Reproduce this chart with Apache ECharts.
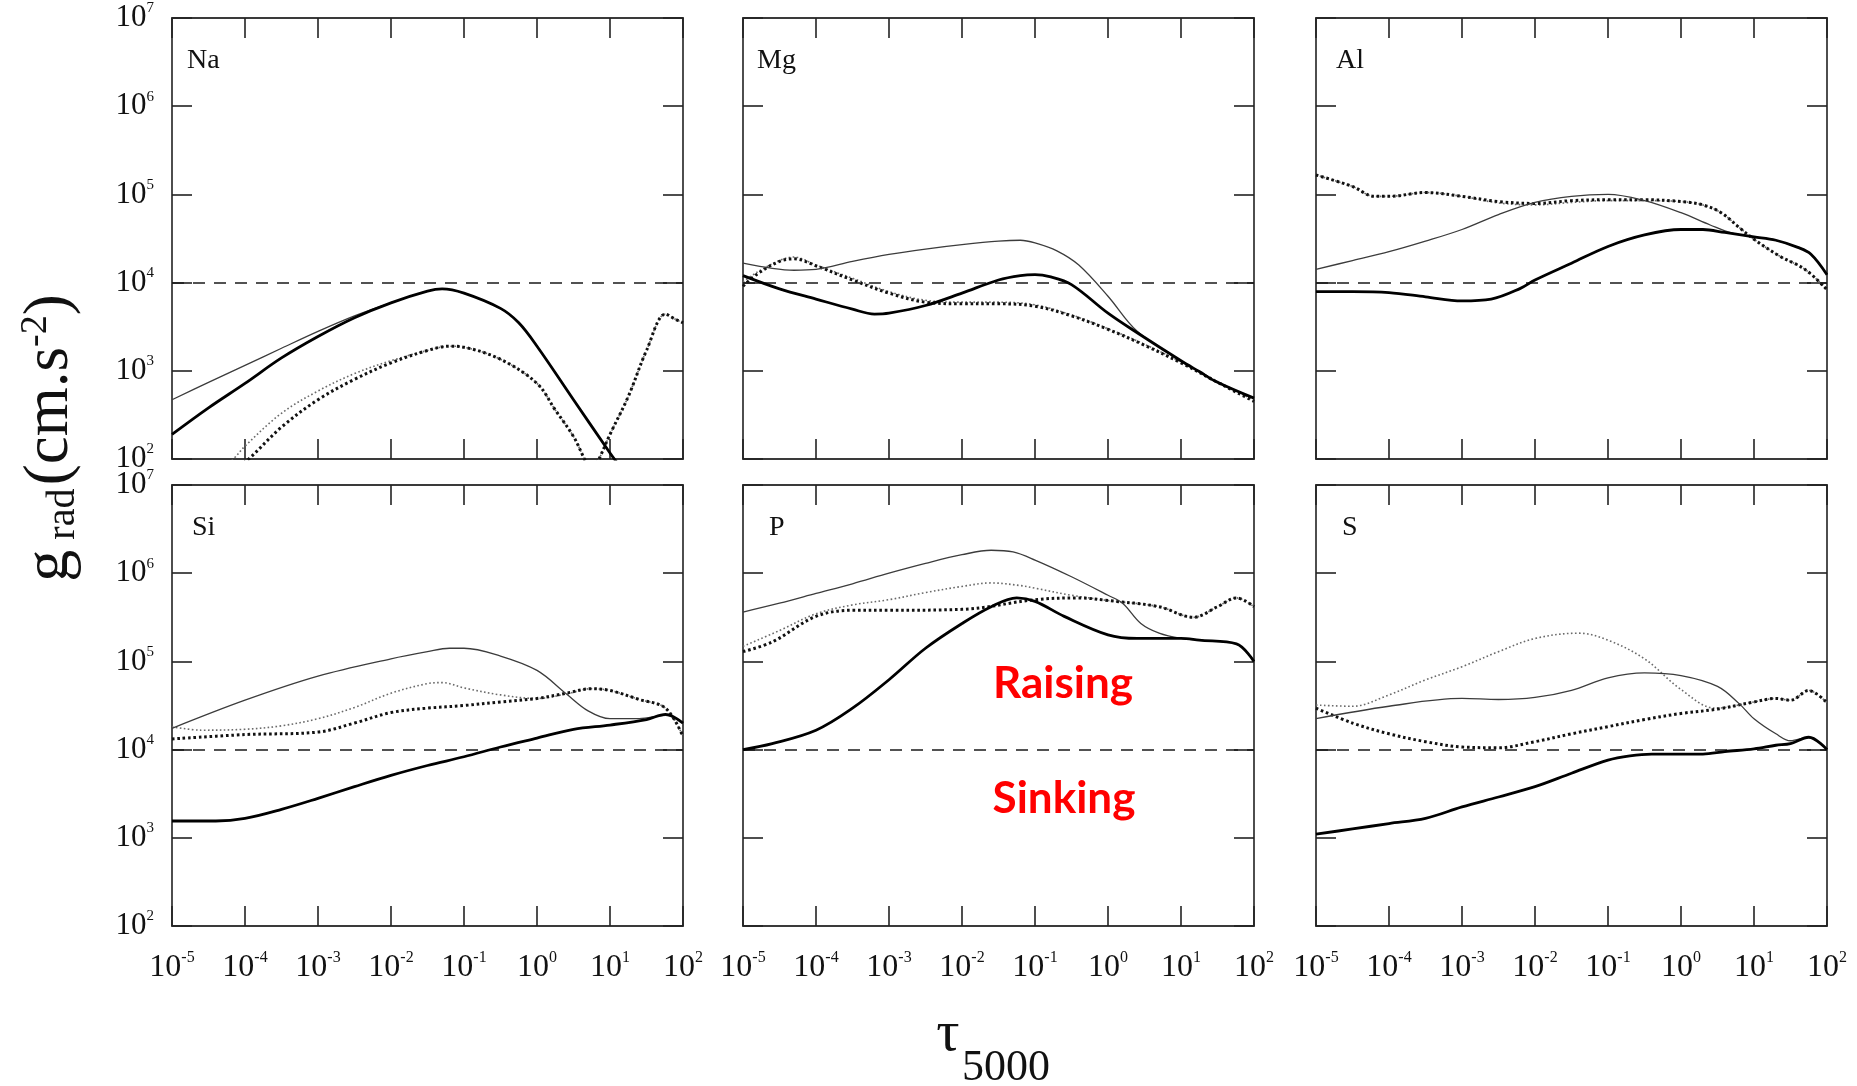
<!DOCTYPE html>
<html>
<head>
<meta charset="utf-8">
<script src="https://cdn.jsdelivr.net/npm/echarts@6/dist/echarts.min.js"></script>
<style>html,body{margin:0;padding:0;background:#fff}#c{width:1857px;height:1086px}</style>
</head>
<body>
<div id="c"></div>
<script>
// ---- data: [log10(tau_5000), g_rad in cm s^-2] ----
const NA_THIN_SOLID   = [[-5,470],[-4.5,740],[-4,1150],[-3.5,1800],[-3,2800],[-2.5,4200],[-2,5900],[-1.5,8000],[-1.3,8500],[-1,7600],[-0.5,5100],[-0.25,3500],[0,1900],[0.5,470],[1,117],[1.1,90]];
const NA_THICK_SOLID  = [[-5,190],[-4.5,380],[-4,720],[-3.5,1400],[-3,2450],[-2.5,4000],[-2,5900],[-1.5,8000],[-1.3,8500],[-1,7600],[-0.5,5100],[-0.25,3500],[0,1900],[0.5,470],[1,117],[1.1,90]];
const NA_THIN_DOTTED  = [[-4.4,70],[-4.16,100],[-4,140],[-3.5,330],[-3,590],[-2.5,930],[-2,1300],[-1.5,1700],[-1.2,1900],[-1,1850],[-0.5,1350],[0,720],[0.25,360],[0.5,180],[0.65,100],[0.75,70],[0.85,100],[1,190],[1.25,510],[1.5,1700],[1.76,4400],[1.88,3900],[2,3500]];
const NA_THICK_DOTTED = [[-4.2,70],[-3.95,100],[-3.5,230],[-3,470],[-2.5,800],[-2,1230],[-1.5,1700],[-1.2,1900],[-1,1850],[-0.5,1350],[0,720],[0.25,360],[0.5,180],[0.65,100],[0.75,70],[0.85,100],[1,190],[1.25,510],[1.5,1700],[1.76,4400],[1.88,3900],[2,3500]];

const MG_THIN_SOLID   = [[-5,16600],[-4.6,14500],[-4.3,13800],[-4,14100],[-3.5,17400],[-3,20900],[-2.5,24000],[-2,26900],[-1.5,29500],[-1.2,30200],[-1,28200],[-0.7,22900],[-0.4,15800],[0,7000],[0.4,2800],[1,1300],[1.25,980],[1.5,740],[2,490]];
const MG_THICK_SOLID  = [[-5,12000],[-4.5,8500],[-4,6500],[-3.5,5000],[-3.2,4400],[-3,4500],[-2.5,5500],[-2,7600],[-1.5,10700],[-1.2,12000],[-1,12300],[-0.8,11700],[-0.5,9500],[0,4500],[0.4,2700],[1,1300],[1.25,980],[1.5,740],[2,490]];
const MG_THIN_DOTTED  = [[-5,10200],[-4.8,13200],[-4.5,17800],[-4.3,19500],[-4,15800],[-3.5,11200],[-3,7900],[-2.5,6300],[-2,6000],[-1.5,6000],[-1,5600],[-0.5,4300],[0,3000],[0.5,2000],[1,1260],[1.5,760],[2,460]];
const MG_THICK_DOTTED = [[-5,9100],[-4.8,12600],[-4.5,17400],[-4.3,18600],[-4,15500],[-3.5,10700],[-3,7600],[-2.5,6000],[-2,5750],[-1.5,5750],[-1,5400],[-0.5,4200],[0,2950],[0.5,1950],[1,1230],[1.5,740],[2,450]];

const AL_THIN_SOLID   = [[-5,14100],[-4.5,17800],[-4,22400],[-3.5,29500],[-3,40000],[-2.5,59000],[-2,81000],[-1.5,95000],[-1,100000],[-0.5,85000],[0,62000],[0.4,45000],[0.7,36300],[1,33000],[1.3,30200],[1.6,25100],[1.78,21000],[2,12300]];
const AL_THICK_SOLID  = [[-5,7900],[-4.5,7900],[-4,7700],[-3.5,6900],[-3,6200],[-2.6,6500],[-2.2,8600],[-2,10700],[-1.5,16600],[-1,25700],[-0.5,34700],[0,40000],[0.3,40000],[0.6,37000],[1,33000],[1.3,30200],[1.6,25100],[1.78,21000],[2,12300]];
const AL_THIN_DOTTED  = [[-5,166000],[-4.5,123000],[-4.2,95000],[-4,95000],[-3.5,105000],[-3,95000],[-2.5,80000],[-2,76000],[-1.5,81000],[-1,85000],[-0.5,85000],[0,83000],[0.3,76000],[0.55,62000],[0.8,42000],[1,31000],[1.35,20000],[1.7,14100],[2,8300]];
const AL_THICK_DOTTED = [[-5,166000],[-4.5,123000],[-4.2,95000],[-4,95000],[-3.5,105000],[-3,95000],[-2.5,83000],[-2,79000],[-1.5,85000],[-1,87000],[-0.5,87000],[0,83000],[0.3,76000],[0.55,62000],[0.8,42000],[1,31000],[1.35,20000],[1.7,14100],[2,8300]];

const SI_THIN_SOLID   = [[-5,17400],[-4,36300],[-3,68000],[-2,107000],[-1.5,129000],[-1.2,141000],[-1,141000],[-0.5,115000],[0,79000],[0.4,43000],[0.7,27500],[1,22400],[1.4,22400],[1.76,24500],[2,20000]];
const SI_THICK_SOLID  = [[-5,1550],[-4.4,1550],[-4,1660],[-3.5,2100],[-3,2800],[-2.5,3800],[-2,5100],[-1.5,6600],[-1,8300],[-0.5,10700],[0,13500],[0.5,17000],[1,19000],[1.5,21900],[1.76,25100],[2,20000]];
const SI_THIN_DOTTED  = [[-5,18200],[-4.6,16600],[-4,17000],[-3.5,18600],[-3,22400],[-2.5,30000],[-2,43600],[-1.5,56000],[-1.3,57500],[-1,50000],[-0.5,41700],[0,38000],[0.4,42700],[0.74,49000],[1,46800],[1.4,37000],[1.76,29500],[2,14100]];
const SI_THICK_DOTTED = [[-5,13200],[-4,14800],[-3,15800],[-2.5,20000],[-2,26300],[-1.5,29500],[-1,31600],[-0.5,34700],[0,38000],[0.4,43600],[0.74,49000],[1,46800],[1.4,37000],[1.76,29500],[2,14100]];

const P_THIN_SOLID    = [[-5,363000],[-4.5,457000],[-4,589000],[-3.5,759000],[-3,1000000],[-2.5,1290000],[-2,1620000],[-1.6,1820000],[-1.3,1740000],[-1,1410000],[-0.5,912000],[0,562000],[0.2,457000],[0.45,269000],[0.7,209000],[1,182000],[1.25,174000],[1.76,158000],[2,100000]];
const P_THICK_SOLID   = [[-5,10000],[-4.6,11700],[-4,16600],[-3.5,29500],[-3,62000],[-2.5,141000],[-2,269000],[-1.6,417000],[-1.25,525000],[-1,479000],[-0.6,324000],[0,200000],[0.4,182000],[1,182000],[1.25,174000],[1.76,158000],[2,100000]];
const P_THIN_DOTTED   = [[-5,148000],[-4.5,224000],[-4,347000],[-3.5,437000],[-3,501000],[-2.5,603000],[-2,708000],[-1.6,776000],[-1.2,724000],[-1,676000],[-0.5,562000],[0,490000],[0.7,417000],[1.17,316000],[1.5,417000],[1.76,525000],[2,417000]];
const P_THICK_DOTTED  = [[-5,129000],[-4.6,166000],[-4,324000],[-3.5,380000],[-3,380000],[-2,389000],[-1,501000],[-0.4,525000],[0,490000],[0.7,417000],[1.17,316000],[1.5,417000],[1.76,525000],[2,417000]];

const S_THIN_SOLID    = [[-5,22400],[-4,31000],[-3,38000],[-2.5,37000],[-2,39000],[-1.5,47000],[-1,65000],[-0.5,74000],[0,69000],[0.5,52000],[0.8,33000],[1,22400],[1.3,15100],[1.5,12600],[1.75,13800],[2,10000]];
const S_THICK_SOLID   = [[-5,1100],[-4.5,1260],[-4,1450],[-3.5,1660],[-3,2240],[-2.5,2900],[-2,3800],[-1.5,5400],[-1,7600],[-0.7,8500],[-0.4,8900],[0,8900],[0.3,8900],[0.6,9500],[1,10200],[1.3,11200],[1.5,11700],[1.75,13800],[2,10000]];
const S_THIN_DOTTED   = [[-5,32000],[-4.5,31000],[-4,41700],[-3.5,61700],[-3,87000],[-2.5,129000],[-2,182000],[-1.4,209000],[-1,174000],[-0.5,107000],[0,48000],[0.47,29500],[1,34700],[1.3,38000],[1.5,36300],[1.75,46800],[2,33900]];
const S_THICK_DOTTED  = [[-5,29500],[-4.5,20000],[-4,15100],[-3.5,12300],[-3,10700],[-2.5,10500],[-2,12300],[-1.5,15100],[-1,18200],[-0.5,21900],[0,25700],[0.5,28800],[1,34700],[1.3,38000],[1.5,36300],[1.75,46800],[2,33900]];

const ELEMENTS = ['Na', 'Mg', 'Al', 'Si', 'P', 'S'];
const CURVES = {
  Na: [NA_THIN_DOTTED, NA_THICK_DOTTED, NA_THIN_SOLID, NA_THICK_SOLID],
  Mg: [MG_THIN_DOTTED, MG_THICK_DOTTED, MG_THIN_SOLID, MG_THICK_SOLID],
  Al: [AL_THIN_DOTTED, AL_THICK_DOTTED, AL_THIN_SOLID, AL_THICK_SOLID],
  Si: [SI_THIN_DOTTED, SI_THICK_DOTTED, SI_THIN_SOLID, SI_THICK_SOLID],
  P:  [P_THIN_DOTTED,  P_THICK_DOTTED,  P_THIN_SOLID,  P_THICK_SOLID],
  S:  [S_THIN_DOTTED,  S_THICK_DOTTED,  S_THIN_SOLID,  S_THICK_SOLID]
};
const TAU_RANGE = [1e-5, 1e2];
const G_RANGE = [1e2, 1e7];
const THRESHOLD = 1e4;
const REGION_LABELS = ['Raising', 'Sinking'];

// ---- layout & style ----
const GRID_LEFTS = [172, 743, 1316];
const GRID_TOPS = [18, 485];
const GRID_W = 511, GRID_H = 441;
const LABEL_POS = [[187, 61], [757, 61], [1336, 61], [192, 528], [769, 528], [1342, 528]];
const SERIF = 'Liberation Serif';
const LINE_STYLES = [
  {color: '#6a6a6a', width: 1.6, type: [1.6, 2.4]},   // thin dotted
  {color: '#111111', width: 3.0, type: [2.6, 2.8]},   // thick dotted
  {color: '#3c3c3c', width: 1.3, type: 'solid'},      // thin solid
  {color: '#000000', width: 2.8, type: 'solid'}       // thick solid
];
const AXIS_LINE = {show: true, onZero: false, lineStyle: {color: '#3a3a3a', width: 1.8}};
const AXIS_TICK = {show: true, inside: true, length: 20, lineStyle: {color: '#222', width: 1.6}};

function supLabel(v) {
  const e = Math.round(Math.log10(v));
  return '{b|10}{e|' + e + '}';
}

const grids = [], xAxes = [], yAxes = [], series = [], graphics = [];

ELEMENTS.forEach((el, i) => {
  const r = Math.floor(i / 3), c = i % 3;
  grids.push({left: GRID_LEFTS[c], top: GRID_TOPS[r], width: GRID_W, height: GRID_H, containLabel: false});
  ['bottom', 'top'].forEach(pos => {
    xAxes.push({
      gridIndex: i, type: 'log', logBase: 10, min: TAU_RANGE[0], max: TAU_RANGE[1], position: pos,
      axisLine: AXIS_LINE, axisTick: AXIS_TICK, splitLine: {show: false}, minorTick: {show: false},
      axisLabel: {
        show: pos === 'bottom' && r === 1, interval: 0, margin: 24, formatter: supLabel,
        color: '#111', fontFamily: SERIF,
        rich: {
          b: {fontFamily: SERIF, fontSize: 32, lineHeight: 36, color: '#111'},
          e: {fontFamily: SERIF, fontSize: 16, lineHeight: 21, verticalAlign: 'top', color: '#111'}
        }
      }
    });
  });
  ['left', 'right'].forEach(pos => {
    yAxes.push({
      gridIndex: i, type: 'log', logBase: 10, min: G_RANGE[0], max: G_RANGE[1], position: pos,
      axisLine: AXIS_LINE, axisTick: AXIS_TICK, splitLine: {show: false}, minorTick: {show: false},
      axisLabel: {
        show: pos === 'left' && c === 0, margin: 18, formatter: supLabel,
        color: '#111', fontFamily: SERIF,
        rich: {
          b: {fontFamily: SERIF, fontSize: 31, lineHeight: 34, color: '#111'},
          e: {fontFamily: SERIF, fontSize: 15, lineHeight: 17, verticalAlign: 'top', color: '#111'}
        }
      }
    });
  });
  CURVES[el].forEach((curve, k) => {
    const s = {
      type: 'line', name: el + k, xAxisIndex: 2 * i, yAxisIndex: 2 * i,
      data: curve.map(p => [Math.pow(10, p[0]), p[1]]),
      showSymbol: false, symbol: 'none', smooth: 0.35, clip: true, silent: true,
      lineStyle: Object.assign({cap: 'butt', join: 'round'}, LINE_STYLES[k]),
      z: 3 + k
    };
    if (k === 0) {
      s.markLine = {
        silent: true, symbol: 'none', animation: false,
        label: {show: false},
        lineStyle: {type: [12, 9], color: '#1a1a1a', width: 1.6},
        data: [{yAxis: THRESHOLD}]
      };
    }
    series.push(s);
  });
  graphics.push({
    type: 'text', x: LABEL_POS[i][0], y: LABEL_POS[i][1],
    style: {text: el, fontFamily: SERIF, fontSize: 28, fill: '#111', align: 'left', verticalAlign: 'middle'}
  });
});

// y-axis title (rotated)
graphics.push({
  type: 'text', x: 50, y: 438, rotation: Math.PI / 2,
  style: {
    text: '{g|g}{r| rad} {p|(cm.s}{s|-2}{p|)}',
    align: 'center', verticalAlign: 'middle', fill: '#111',
    rich: {
      g: {fontFamily: SERIF, fontSize: 64, lineHeight: 66, fill: '#111'},
      r: {fontFamily: SERIF, fontSize: 40, lineHeight: 40, verticalAlign: 'bottom', fill: '#111'},
      p: {fontFamily: SERIF, fontSize: 63, lineHeight: 66, fill: '#111'},
      s: {fontFamily: SERIF, fontSize: 38, lineHeight: 38, verticalAlign: 'top', fill: '#111'}
    }
  }
});
// x-axis title
graphics.push({type: 'text', x: 948, y: 1035, style: {text: 'τ', fontFamily: SERIF, fontSize: 58, fill: '#111', align: 'center', verticalAlign: 'middle'}});
graphics.push({type: 'text', x: 1006, y: 1068, style: {text: '5000', fontFamily: SERIF, fontSize: 44, fill: '#111', align: 'center', verticalAlign: 'middle'}});
// annotations
graphics.push({type: 'text', x: 1063, y: 684, style: {text: REGION_LABELS[0], fontFamily: 'Lato', fontWeight: 'bold', fontSize: 44, fill: '#ff0000', align: 'center', verticalAlign: 'middle'}});
graphics.push({type: 'text', x: 1064, y: 799, style: {text: REGION_LABELS[1], fontFamily: 'Lato', fontWeight: 'bold', fontSize: 44, fill: '#ff0000', align: 'center', verticalAlign: 'middle'}});

const chart = echarts.init(document.getElementById('c'), null, {renderer: 'canvas', width: 1857, height: 1086});
chart.setOption({
  animation: false,
  backgroundColor: '#ffffff',
  grid: grids,
  xAxis: xAxes,
  yAxis: yAxes,
  series: series,
  graphic: graphics
});
</script>
</body>
</html>
